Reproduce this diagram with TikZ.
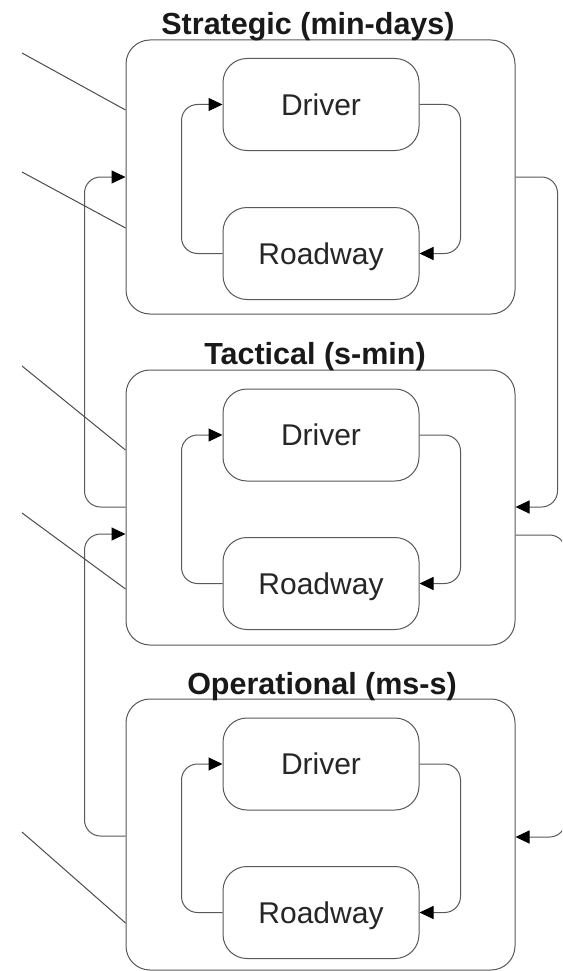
\documentclass[tikz,border=0pt]{standalone}
\usepackage{fontspec}
\setmainfont{Liberation Sans}
\usetikzlibrary{arrows.meta}
\begin{document}
\begin{tikzpicture}[x=1pt,y=-1pt,
  outerbox/.style={draw=black!65, line width=1pt, rounded corners=24pt, minimum width=389pt, inner sep=0pt},
  innerbox/.style={draw=black!65, line width=1pt, rounded corners=24pt, minimum width=196pt, minimum height=92pt, inner sep=0pt, font=\fontsize{30}{36}\selectfont, text=black!85, text height=21.5pt, text depth=0pt},
  ttl/.style={font=\fontsize{30.5}{36}\selectfont\bfseries, anchor=base, inner sep=0pt, text=black!90},
  conn/.style={draw=black!65, line width=1pt, rounded corners=16pt},
  arr/.style={conn, -{Triangle[length=14pt,width=13pt,color=black]}},
  inp/.style={draw=black!70, line width=1pt}]
\fill[white] (0,0) rectangle (562,971);
\useasboundingbox (0,0) rectangle (562,971);
\clip (0,0) rectangle (562,971);

% outer boxes
\node[outerbox, minimum height=274pt] (S) at (320.5,177) {};
\node[outerbox, minimum height=275pt] (T) at (320.5,507.5) {};
\node[outerbox, minimum height=271pt] (O) at (320.5,834.5) {};

% titles
\node[ttl] (sT) at (308,35) {Strategic (min-days)};
\node[ttl] (tT) at (315,364) {Tactical (s-min)};
\node[ttl] (oT) at (322,694) {Operational (ms-s)};

% inner boxes
\node[innerbox] (sD) at (321,104.5) {Driver};
\node[innerbox] (sR) at (321,253.5) {Roadway};
\node[innerbox] (tD) at (321,435) {Driver};
\node[innerbox] (tR) at (321,583.5) {Roadway};
\node[innerbox] (oD) at (321,764) {Driver};
\node[innerbox] (oR) at (321,912.5) {Roadway};

% inner loops
\draw[arr] (sR.west) -- ++(-41,0) |- (sD.west);
\draw[arr] (sD.east) -- ++(41,0) |- (sR.east);
\draw[arr] (tR.west) -- ++(-41,0) |- (tD.west);
\draw[arr] (tD.east) -- ++(41,0) |- (tR.east);
\draw[arr] (oR.west) -- ++(-41,0) |- (oD.west);
\draw[arr] (oD.east) -- ++(41,0) |- (oR.east);

% between levels
\draw[arr] (S.east |- 0,177) -- ++(42,0) |- (T.east |- 0,507);
\draw[arr] (T.west |- 0,507) -- ++(-41,0) |- (S.west |- 0,177);
\draw[arr] (T.east |- 0,535) -- ++(50,0) |- (O.east |- 0,837);
\draw[arr] (O.west |- 0,836) -- ++(-41,0) |- (T.west |- 0,534);

% inputs from the left
\coordinate (a1) at (22,53);
\coordinate (a2) at (22,172);
\coordinate (a3) at (22,366);
\coordinate (a4) at (22,513);
\coordinate (a5) at (22,832);
\draw[inp] (a1) -- (S.west |- 0,110);
\draw[inp] (a2) -- (S.west |- 0,228);
\draw[inp] (a3) -- (T.west |- 0,450);
\draw[inp] (a4) -- (T.west |- 0,589);
\draw[inp] (a5) -- (O.west |- 0,923);
\end{tikzpicture}
\end{document}
